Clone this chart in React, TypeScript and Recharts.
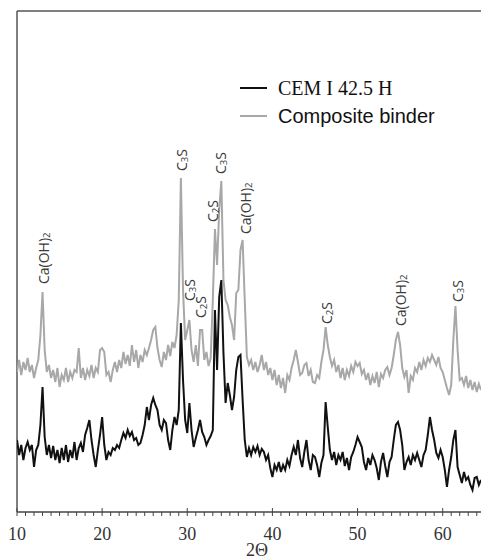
import React from 'react';
import {
  ComposedChart,
  Line,
  XAxis,
  YAxis,
  ReferenceLine,
  ReferenceDot,
} from 'recharts';

// scan from 10 to 64.5 degrees 2-theta, 0.25 deg step
const startAngle = 10;
const stepAngle = 0.25;

// intensity, arbitrary units (offset stack as in the figure)
const composite = [
  139, 151, 136, 149, 141, 153, 139, 146, 133, 143, 151, 176,
  219, 161, 139, 146, 133, 141, 129, 143, 124, 136, 131, 143,
  129, 139, 133, 141, 139, 163, 133, 143, 131, 141, 135, 146,
  133, 143, 139, 161, 163, 159, 136, 139, 129, 141, 149, 139,
  151, 143, 159, 147, 156, 145, 166, 149, 161, 143, 156, 149,
  161, 156, 163, 171, 181, 184, 163, 151, 144, 159, 151, 166,
  155, 169, 163, 176, 211, 333, 221, 171, 181, 191, 161, 149,
  166, 145, 181, 181, 151, 159, 145, 153, 211, 282, 246, 301,
  330, 231, 211, 206, 194, 186, 171, 218, 221, 261, 271, 211,
  154, 146, 151, 141, 149, 139, 146, 156, 141, 149, 136, 143,
  131, 141, 126, 136, 123, 133, 118, 136, 131, 143, 151, 161,
  149, 136, 138, 146, 148, 135, 141, 129, 128, 136, 133, 149,
  161, 184, 166, 154, 145, 151, 139, 146, 133, 143, 131, 141,
  135, 145, 139, 149, 145, 148, 137, 141, 131, 138, 126, 135,
  128, 139, 124, 137, 133, 141, 144, 136, 143, 156, 171, 179,
  166, 143, 134, 141, 118, 135, 131, 143, 139, 149, 141, 151,
  145, 153, 149, 156, 151, 146, 154, 143, 139, 131, 123, 116,
  126, 171, 205, 161, 131, 133, 126, 135, 123, 131, 121, 129,
  119, 127, 121,
];

const cem = [
  71, 56, 66, 51, 63, 69, 61, 66, 44, 61, 66, 86,
  124, 74, 56, 66, 53, 65, 51, 61, 48, 63, 51, 66,
  49, 61, 53, 69, 51, 63, 68, 59, 76, 83, 91, 71,
  56, 44, 61, 76, 94, 66, 51, 59, 56, 63, 61, 66,
  63, 71, 78, 73, 81, 75, 79, 71, 73, 66, 68, 76,
  86, 104, 91, 106, 113, 106, 101, 86, 81, 91, 88, 71,
  61, 81, 94, 86, 101, 188, 131, 91, 78, 108, 81, 64,
  73, 81, 91, 79, 74, 66, 71, 75, 81, 201, 141, 214,
  231, 158, 108, 128, 116, 101, 114, 141, 154, 156, 111, 71,
  54, 63, 56, 64, 59, 65, 56, 62, 59, 51, 56, 43,
  34, 46, 41, 49, 39, 46, 41, 51, 45, 56, 64, 56,
  71, 53, 44, 59, 71, 51, 41, 56, 54, 46, 34, 48,
  56, 109, 84, 61, 51, 59, 46, 56, 51, 59, 45, 53,
  41, 54, 59, 66, 74, 69, 64, 49, 41, 53, 46, 56,
  51, 43, 31, 49, 58, 45, 34, 49, 54, 71, 86, 89,
  81, 66, 41, 49, 54, 46, 56, 51, 58, 51, 44, 56,
  61, 76, 94, 81, 71, 58, 53, 61, 54, 41, 24, 41,
  54, 71, 81, 44, 36, 28, 39, 31, 34, 26, 21, 33,
  34, 26, 31,
];

// peak annotations
const peakNames = ['Ca(OH)2', 'C3S', 'C3S', 'C2S', 'C2S', 'C3S', 'Ca(OH)2', 'C2S', 'Ca(OH)2', 'C3S'];
const peakAngles = [13.0, 29.3, 30.2, 31.5, 32.9, 33.85, 36.8, 46.3, 55.0, 61.7];
const peakLevels = [227, 340, 210, 193, 289, 337, 277, 187, 185, 209];

const majorTicks = [10, 20, 30, 40, 50, 60];
const allTicks = Array.from({ length: 55 }, (_, i) => 10 + i);

const data = composite.map((v, i) => ({
  angle: startAngle + i * stepAngle,
  composite: v,
  cem: cem[i],
}));

const serif = '"Liberation Serif", "Times New Roman", serif';
const sans = '"Liberation Sans", Arial, sans-serif';

function AngleTick(props: any) {
  const { x, y, payload } = props;
  const major = majorTicks.includes(payload.value);
  return (
    <g>
      <line x1={x} x2={x} y1={major ? y - 4 : y} y2={y + 4} stroke="#444" strokeWidth={1} />
      {major && (
        <text x={x} y={y + 22} textAnchor="middle" dominantBaseline="central" fill="#333" fontFamily={serif} fontSize={18}>
          {payload.value}
        </text>
      )}
    </g>
  );
}

function PeakLabel(props: any) {
  const { cx, cy, name } = props;
  const parts = name.match(/[0-9]+|[^0-9]+/g) || [];
  let sub = false;
  return (
    <text
      x={cx}
      y={cy}
      transform={`rotate(-90 ${cx} ${cy})`}
      textAnchor="start"
      dominantBaseline="central"
      fill="#3a3a3a"
      fontFamily='"Open Sans", "Noto Sans", sans-serif'
      fontSize={14}
    >
      {parts.map((p: string, i: number) => {
        const isNum = /^[0-9]+$/.test(p);
        const dy = isNum ? 3 : sub ? -3 : 0;
        sub = isNum;
        return (
          <tspan key={i} dy={dy} fontSize={isNum ? 9.5 : 14}>
            {p}
          </tspan>
        );
      })}
    </text>
  );
}

function ChartLegend() {
  return (
    <div style={{ position: 'absolute', left: 240, top: 74 }}>
      <div style={{ display: 'flex', alignItems: 'center', height: 28 }}>
        <span style={{ display: 'inline-block', width: 27, height: 2, background: '#111', marginRight: 11 }} />
        <span style={{ fontFamily: serif, fontSize: 20, color: '#111' }}>CEM I 42.5 H</span>
      </div>
      <div style={{ display: 'flex', alignItems: 'center', height: 28 }}>
        <span style={{ display: 'inline-block', width: 27, height: 2, background: '#a8a8a8', marginRight: 11 }} />
        <span style={{ fontFamily: sans, fontSize: 20, color: '#111' }}>Composite binder</span>
      </div>
    </div>
  );
}

export default function App() {
  return (
    <div style={{ position: 'absolute', left: 0, top: 0, width: 481, height: 559, background: '#fff', overflow: 'hidden' }}>
      <ComposedChart width={481} height={559} data={data} margin={{ top: 11, right: 0, left: 17, bottom: 0 }}>
        <XAxis
          type="number"
          dataKey="angle"
          domain={[10, 64.5]}
          allowDataOverflow
          ticks={allTicks}
          interval={0}
          tickLine={false}
          tickSize={0}
          tickMargin={0}
          height={47}
          axisLine={{ stroke: '#444', strokeWidth: 1.5 }}
          tick={<AngleTick />}
          label={{ value: '2Θ', position: 'insideBottom', offset: 3, dx: 8, fill: '#333', fontFamily: serif, fontSize: 18 }}
        />
        <YAxis hide domain={[-1, 500]} />
        <ReferenceLine y={500} stroke="#555" strokeWidth={1.5} />
        <ReferenceLine x={10} stroke="#555" strokeWidth={1.5} />
        <Line
          type="linear"
          dataKey="composite"
          stroke="#a8a8a8"
          strokeWidth={2}
          dot={false}
          isAnimationActive={false}
        />
        <Line
          type="linear"
          dataKey="cem"
          stroke="#111"
          strokeWidth={2}
          dot={false}
          isAnimationActive={false}
        />
        {peakNames.map((n, i) => (
          <ReferenceDot
            key={i}
            x={peakAngles[i]}
            y={peakLevels[i]}
            r={0}
            ifOverflow="visible"
            shape={(p: any) => <PeakLabel {...p} name={n} />}
          />
        ))}
      </ComposedChart>
      <ChartLegend />
    </div>
  );
}
